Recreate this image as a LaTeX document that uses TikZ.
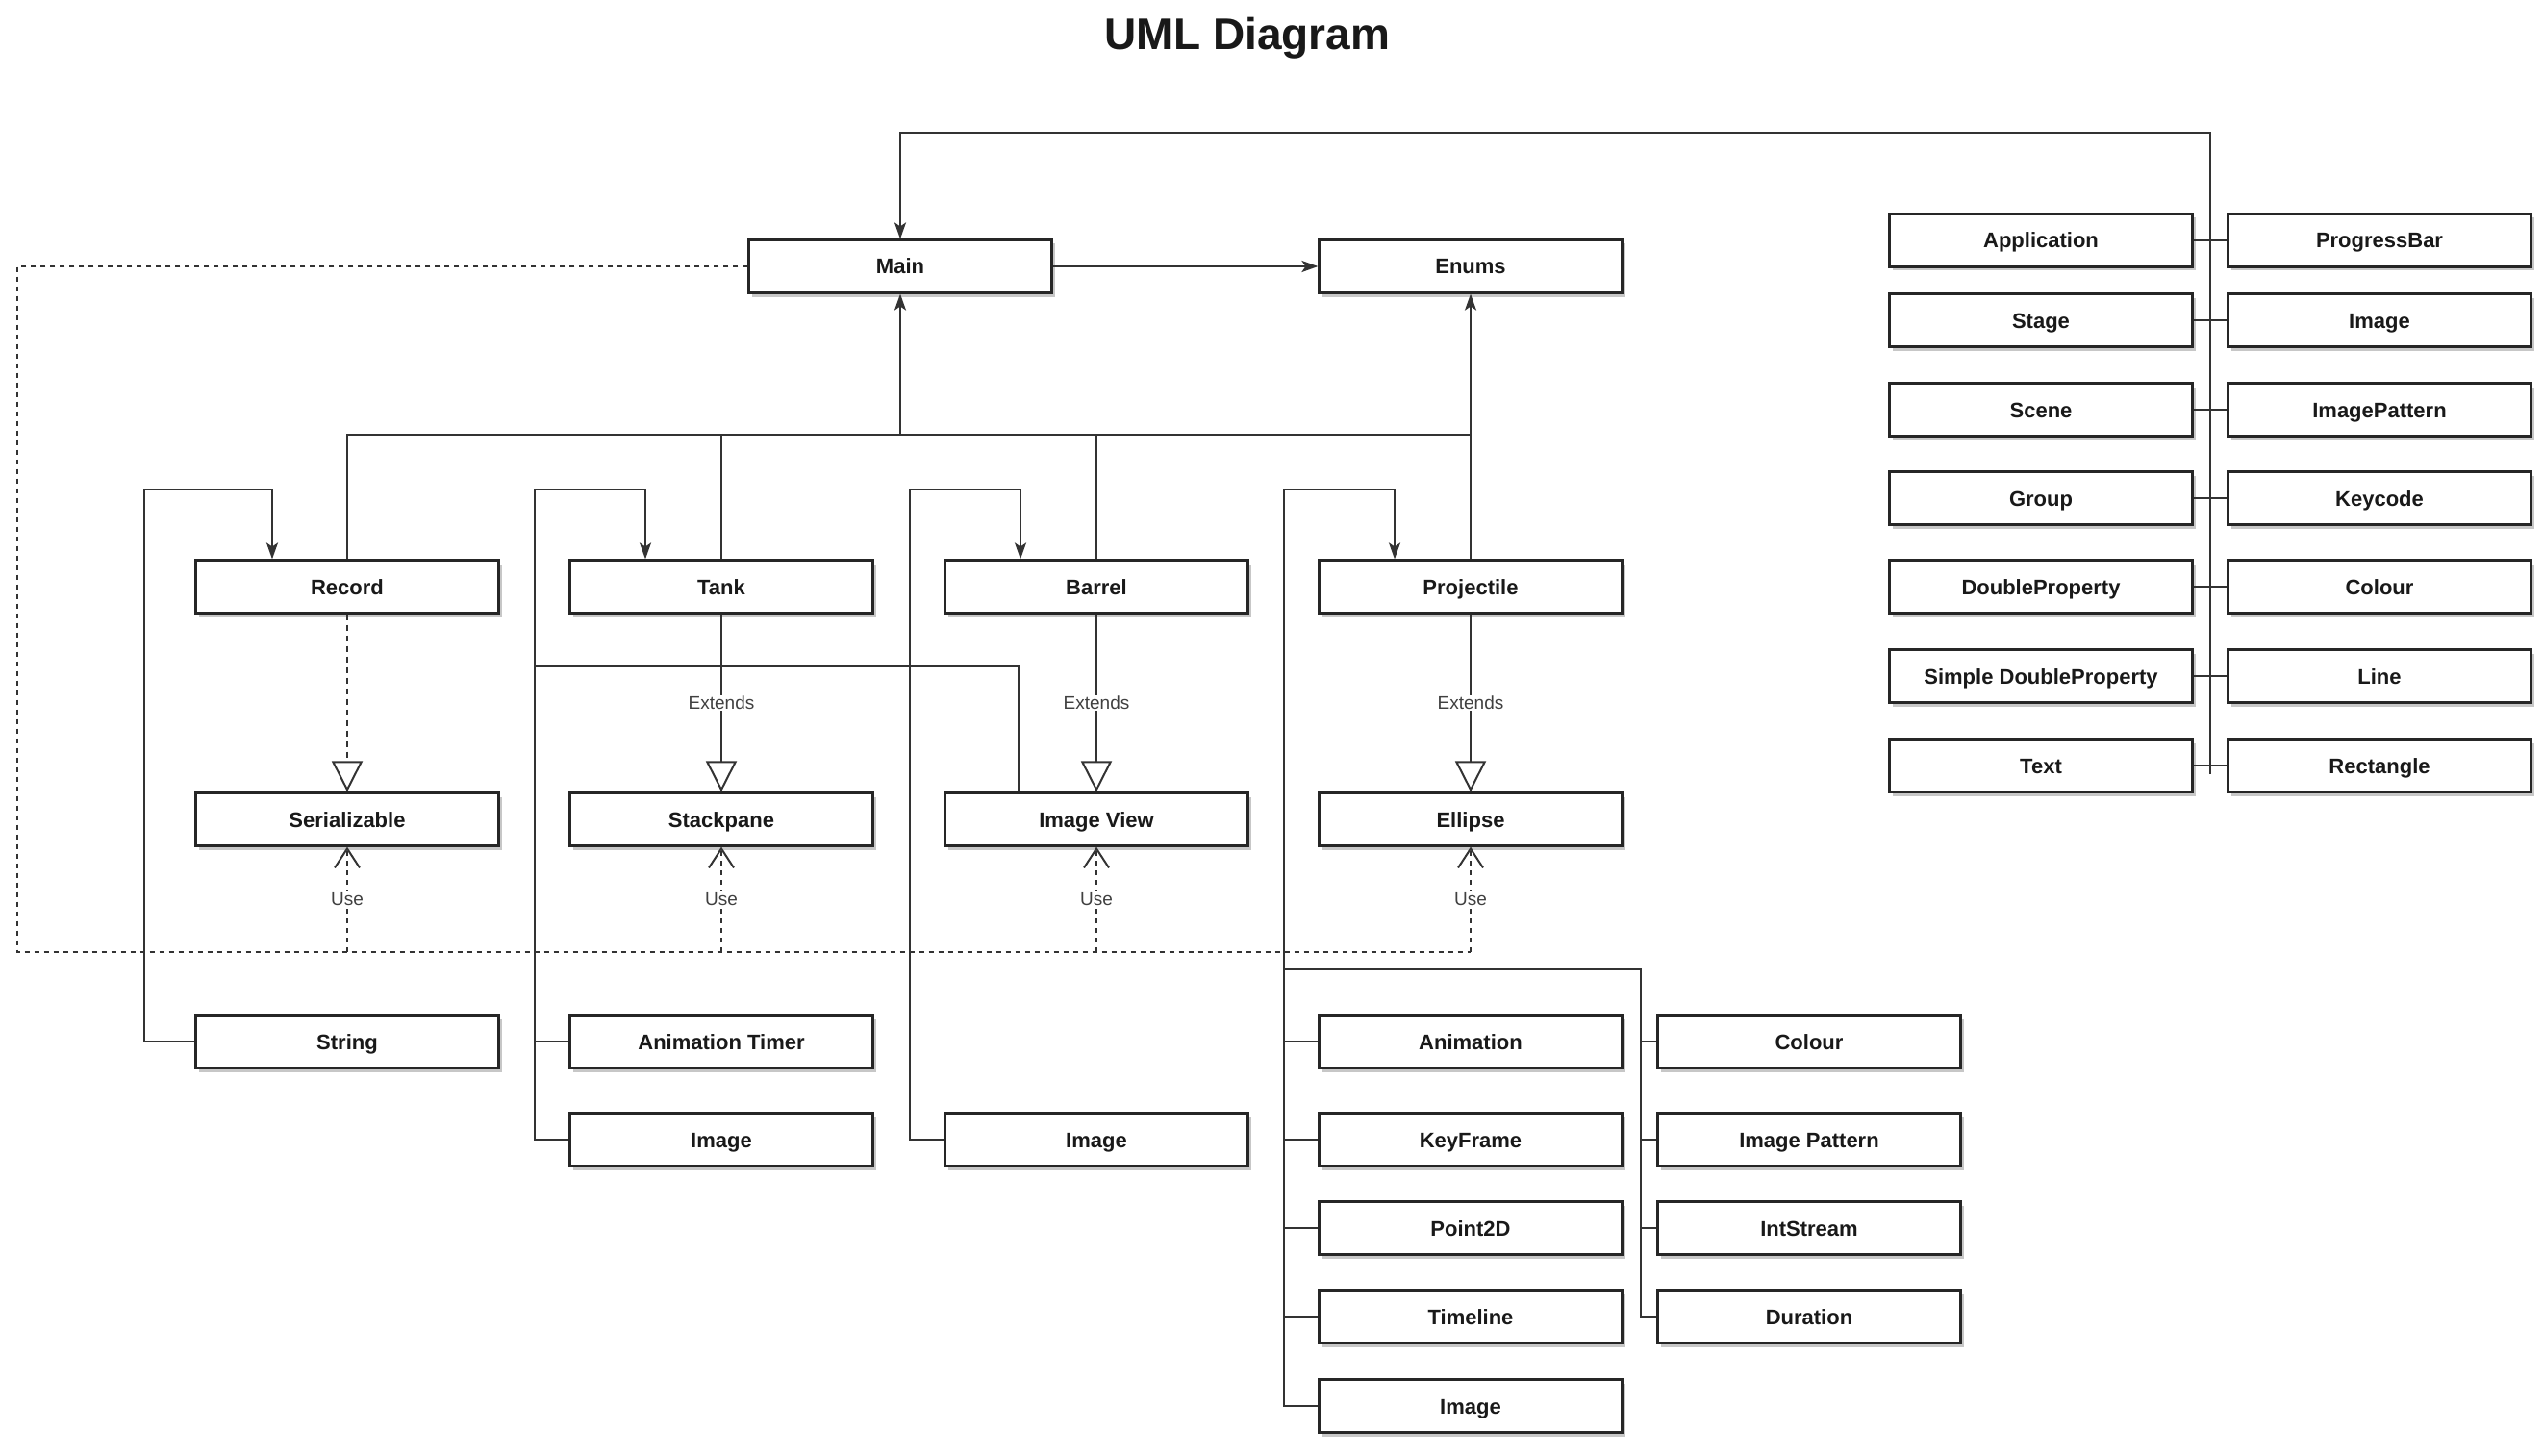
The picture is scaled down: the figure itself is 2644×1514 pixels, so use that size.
\documentclass[tikz,border=0pt]{standalone}
\usepackage{fontspec}
\setmainfont{Liberation Sans}
\usetikzlibrary{arrows.meta,calc,shadows}
\begin{document}
\begin{tikzpicture}[x=1pt,y=-1pt,
  box/.style={draw=black!85, line width=2.2pt, fill=white, minimum width=315pt, minimum height=55pt,
    inner sep=0pt, text height=18pt, text depth=2pt, font=\fontsize{22}{26}\selectfont\bfseries, text=black!90,
    drop shadow={shadow xshift=3pt,shadow yshift=-4pt,fill=black,opacity=0.22}},
  ln/.style={draw=black!80, line width=2pt},
  arr/.style={ln, -{Stealth[length=17pt,width=12pt,inset=4pt]}},
  ext/.style={ln, -{Triangle[open,length=32pt,width=32pt,fill=white]}},
  real/.style={ext, dash pattern=on 6pt off 5pt},
  dl/.style={ln, dash pattern=on 5pt off 5pt},
  use/.style={dl, -{Straight Barb[length=20pt,width=26pt]}},
  lbl/.style={fill=white, inner sep=1.5pt, font=\fontsize{19}{22}\selectfont, text=black!75},
]
\useasboundingbox (0,0) rectangle (2644,1514);

\node[font=\fontsize{46}{54}\selectfont\bfseries, text=black!90] (title) at (1297,40) {UML Diagram};

% top row
\node[box] (Main) at (936,277) {Main};
\node[box] (Enums) at (1529,277) {Enums};

% row 2
\node[box] (Record) at (361,610) {Record};
\node[box] (Tank) at (750,610) {Tank};
\node[box] (Barrel) at (1140,610) {Barrel};
\node[box] (Projectile) at (1529,610) {Projectile};

% row 3
\node[box] (Serializable) at (361,852) {Serializable};
\node[box] (Stackpane) at (750,852) {Stackpane};
\node[box] (ImageView) at (1140,852) {Image View};
\node[box] (Ellipse) at (1529,852) {Ellipse};

% lower boxes
\node[box] (String) at (361,1083) {String};
\node[box] (AnimTimer) at (750,1083) {Animation Timer};
\node[box] (ImageA) at (750,1185) {Image};
\node[box] (ImageB) at (1140,1185) {Image};
\node[box] (Animation) at (1529,1083) {Animation};
\node[box] (KeyFrame) at (1529,1185) {KeyFrame};
\node[box] (Point2D) at (1529,1277) {Point2D};
\node[box] (Timeline) at (1529,1369) {Timeline};
\node[box] (ImageC) at (1529,1462) {Image};
\node[box] (Colour) at (1881,1083) {Colour};
\node[box] (ImagePattern) at (1881,1185) {Image Pattern};
\node[box] (IntStream) at (1881,1277) {IntStream};
\node[box] (Duration) at (1881,1369) {Duration};

% right block
\node[box] (Application) at (2122,250) {Application};
\node[box] (Stage) at (2122,333) {Stage};
\node[box] (Scene) at (2122,426) {Scene};
\node[box] (Group) at (2122,518) {Group};
\node[box] (DoubleProperty) at (2122,610) {DoubleProperty};
\node[box] (SimpleDP) at (2122,703) {Simple DoubleProperty};
\node[box] (Text) at (2122,796) {Text};
\node[box] (ProgressBar) at (2474,250) {ProgressBar};
\node[box] (ImageR) at (2474,333) {Image};
\node[box] (ImagePatternR) at (2474,426) {ImagePattern};
\node[box] (Keycode) at (2474,518) {Keycode};
\node[box] (ColourR) at (2474,610) {Colour};
\node[box] (Line) at (2474,703) {Line};
\node[box] (Rectangle) at (2474,796) {Rectangle};

% coordinates
\coordinate (rt) at (2298,805);
\coordinate (tc) at (2298,138);
\coordinate (busL) at (361,452);
\coordinate (busR) at (1529,452);
\coordinate (sl) at (150,509);
\coordinate (tb) at (556,509);
\coordinate (ivj) at (556,693);
\coordinate (bb) at (946,509);
\coordinate (pb) at (1335,509);
\coordinate (sb) at (1706,1008);
\coordinate (dl) at (18,990);

% right block bus
\draw[arr] (rt) -- (tc) -| (Main.north);
\foreach \a/\b in {Application/ProgressBar, Stage/ImageR, Scene/ImagePatternR, Group/Keycode,
  DoubleProperty/ColourR, SimpleDP/Line, Text/Rectangle}
  \draw[ln] (\a.east) -- (\b.west);

% Main -> Enums
\draw[arr] (Main.east) -- (Enums.west);

% main bus
\draw[ln] (Record.north) -- (busL) -- (busR);
\draw[ln] (Tank.north) -- (Tank.north |- busL);
\draw[ln] (Barrel.north) -- (Barrel.north |- busL);
\draw[arr] (Projectile.north) -- (Enums.south);
\draw[arr] (Main.south |- busL) -- (Main.south);

% loops
\draw[arr] (String.west) -| (sl) -| ($(Record.north)+(-78,0)$);
\draw[arr] (ImageA.west) -| (tb) -| ($(Tank.north)+(-79,0)$);
\draw[ln] (AnimTimer.west) -- (AnimTimer.west -| tb);
\draw[ln] (ivj) -| ($(ImageView.north)+(-81,0)$);
\draw[arr] (ImageB.west) -| (bb) -| ($(Barrel.north)+(-79,0)$);
\draw[arr] (ImageC.west) -| (pb) -| ($(Projectile.north)+(-79,0)$);
\foreach \n in {Animation, KeyFrame, Point2D, Timeline}
  \draw[ln] (\n.west) -- (\n.west -| pb);
\draw[ln] (pb |- sb) -- (sb) |- (Duration.west);
\foreach \n in {Colour, ImagePattern, IntStream}
  \draw[ln] (\n.west) -- (\n.west -| sb);

% generalisation / realisation
\draw[real] (Record.south) -- (Serializable.north);
\draw[ext] (Tank.south) -- node[lbl]{Extends} (Stackpane.north);
\draw[ext] (Barrel.south) -- node[lbl]{Extends} (ImageView.north);
\draw[ext] (Projectile.south) -- node[lbl]{Extends} (Ellipse.north);

% use (dotted) lines
\draw[dl] (Main.west) -| (dl) -- (Ellipse.south |- dl);
\foreach \n in {Serializable, Stackpane, ImageView, Ellipse}
  \draw[use] (\n.south |- dl) -- node[lbl]{Use} (\n.south);
\end{tikzpicture}
\end{document}
